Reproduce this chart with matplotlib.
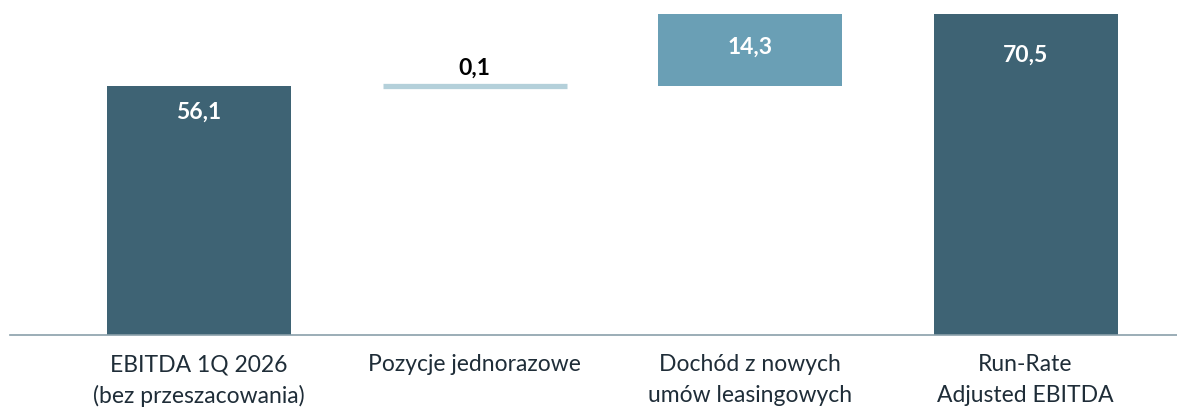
import numpy as np
import matplotlib
matplotlib.use('Agg')
import matplotlib.pyplot as plt

categories = ['EBITDA 1Q 2026\n(bez przeszacowania)', 'Pozycje jednorazowe',
              'Dochód z nowych\numów leasingowych', 'Run-Rate\nAdjusted EBITDA']
values = [56.1, 0.1, 14.3, 70.5]
is_total = [True, False, False, True]
value_labels = ['56,1', '0,1', '14,3', '70,5']

dark = '#3e6374'
mid = '#6a9fb5'
light = '#b4d0da'
text_col = '#1f2d38'

plt.rcParams['font.family'] = ['Lato', 'DejaVu Sans']

W, H = 1177, 408
fig = plt.figure(figsize=(W / 100, H / 100), dpi=100)
# the value axis does not start at zero: baseline line sits at y=335 px
scale = 5.0          # px per unit
zero_px = 366.5      # where 0 would be (below the visible axis)
ymin = (zero_px - 335) / scale
ymax = (zero_px - 7) / scale
ax = fig.add_axes([10 / W, (H - 335) / H, (W - 10) / W, (ymax - ymin) * scale / H])

x = np.arange(len(values))
bottoms = []
running = 0.0
for v, tot in zip(values, is_total):
    if tot:
        bottoms.append(0.0)
        running = v
    else:
        bottoms.append(running)
        running += v

colors_ = [dark, light, mid, dark]
width = 184 / 275.5
bars = ax.bar(x, values, bottom=bottoms, width=width, color=colors_, zorder=2)
# tiny bar gets a minimum visible thickness
bars[1].set_edgecolor(light)
bars[1].set_linewidth(3.8)

# value labels
offsets = [-26, 17, -33, -41]  # pixels relative to bar top
for i, (b, v) in enumerate(zip(bottoms, values)):
    top = b + v
    inside = offsets[i] < 0
    ax.annotate(value_labels[i], (x[i], top), xytext=(0, offsets[i] * 0.72),
                textcoords='offset points', ha='center', va='center',
                fontsize=16.5, fontweight='bold',
                color='white' if inside else 'black')

ax.set_xlim((10 - 199) / 275.5, (W - 199) / 275.5)
ax.set_ylim(ymin, ymax)
for s in ['top', 'right', 'left']:
    ax.spines[s].set_visible(False)
ax.spines['bottom'].set_color('#8aa0aa')
ax.spines['bottom'].set_linewidth(1.2)
ax.spines['bottom'].set_zorder(3)
ax.set_yticks([])
ax.set_xticks(x)
ax.set_xticklabels(categories, fontsize=16.5, color=text_col, linespacing=1.55, va='top')
ax.tick_params(axis='x', length=0, pad=14)

fig.savefig('out.png', dpi=100)
